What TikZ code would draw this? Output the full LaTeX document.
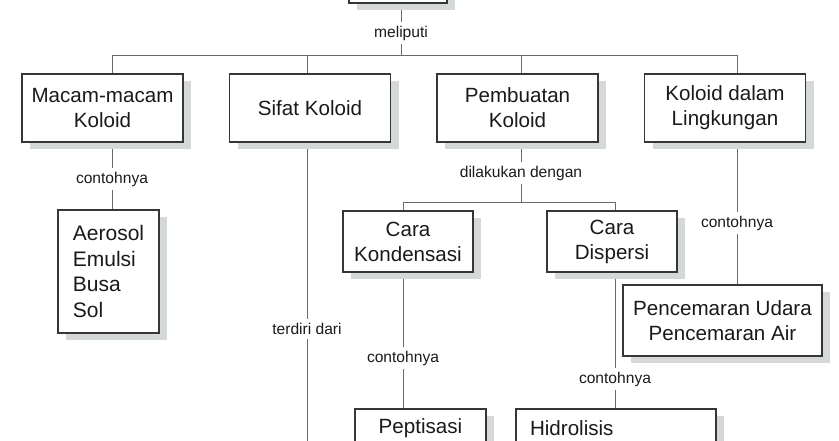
\documentclass[tikz,border=0pt]{standalone}
\usepackage{fontspec}
\setmainfont{Liberation Sans}
\usetikzlibrary{shadows}
\pgfdeclarelayer{background}
\pgfsetlayers{background,main}
\definecolor{linec}{HTML}{6A6A6A}
\definecolor{boxc}{HTML}{363636}
\definecolor{shadc}{HTML}{D4D8D8}
\definecolor{textc}{HTML}{1A1A1A}
\begin{document}
\begin{tikzpicture}[x=1pt,y=-1pt,
  box/.style={draw=boxc, line width=1.1pt, fill=white, text=textc,
    font=\fontsize{20.6}{25}\selectfont, align=center, inner sep=0pt,
    drop shadow={shadow xshift=8pt, shadow yshift=-7pt, fill=shadc, opacity=1}},
  lbl/.style={text=textc, font=\fontsize{15.6}{18}\selectfont, inner sep=4pt},
  conn/.style={draw=linec, line width=0.95pt}]
\useasboundingbox (0,0) rectangle (839,441);
\clip (0,0) rectangle (839,441);

% boxes
\node[box, minimum width=98pt, minimum height=60pt] (top) at (398,-27) {};
\node[box, minimum width=161pt, minimum height=68pt] (mac) at (102.5,108) {Macam-macam\\Koloid};
\node[box, minimum width=161pt, minimum height=68pt] (sif) at (310,108) {Sifat Koloid};
\node[box, minimum width=161pt, minimum height=68pt] (pem) at (517.5,108) {Pembuatan\\Koloid};
\node[box, minimum width=161pt, minimum height=68pt] (lin) at (725,108) {Koloid dalam\\Lingkungan};
\node[box, minimum width=101pt, minimum height=123pt, align=left,
      font=\fontsize{21}{25.5}\selectfont] (aer) at (108.5,271.5) {Aerosol\\Emulsi\\Busa\\Sol};
\node[box, minimum width=130pt, minimum height=61pt] (kon) at (408,241.5) {Cara\\Kondensasi};
\node[box, minimum width=130pt, minimum height=61pt] (dis) at (612,241.5) {Cara\\Dispersi};
\node[box, minimum width=199pt, minimum height=71pt] (pen) at (722.5,320.5) {Pencemaran Udara\\Pencemaran Air};
\node[box, minimum width=131pt, minimum height=38pt] (pep) at (420.5,428) {Peptisasi};
\node[box, minimum width=200pt, minimum height=38pt, inner xsep=14pt,
      text width=172pt, align=left] (hid) at (616,428) {Hidrolisis};

% labels
\node[lbl] (l0) at (401,33) {meliputi};
\node[lbl] (l1) at (112,179) {contohnya};
\node[lbl] (l2) at (307,329) {terdiri dari};
\node[lbl] (l3) at (521,173) {dilakukan dengan};
\node[lbl] (l4) at (403,358) {contohnya};
\node[lbl] (l5) at (615,379) {contohnya};
\node[lbl] (l6) at (737,223) {contohnya};

% bus coordinates
\coordinate (b1a) at (112,55);
\coordinate (b1b) at (307,55);
\coordinate (b1c) at (521,55);
\coordinate (b1d) at (737,55);
\coordinate (b2a) at (403,202);
\coordinate (b2b) at (615,202);
\coordinate (sifend) at (307,460);

\begin{pgfonlayer}{background}
  % top level
  \draw[conn] (top.south -| l0) -- (l0);
  \draw[conn] (l0) -- (l0 |- b1a);
  \draw[conn] (b1a) -- (b1d);
  \draw[conn] (b1a) -- (b1a |- mac.north);
  \draw[conn] (b1b) -- (b1b |- sif.north);
  \draw[conn] (b1c) -- (b1c |- pem.north);
  \draw[conn] (b1d) -- (b1d |- lin.north);
  % Macam-macam
  \draw[conn] (mac.south -| l1) -- (l1);
  \draw[conn] (l1) -- (l1 |- aer.north);
  % Sifat
  \draw[conn] (sif.south -| l2) -- (l2);
  \draw[conn] (l2) -- (sifend);
  % Pembuatan
  \draw[conn] (pem.south -| l3) -- (l3);
  \draw[conn] (l3) -- (l3 |- b2a);
  \draw[conn] (b2a) -- (b2b);
  \draw[conn] (b2a) -- (b2a |- kon.north);
  \draw[conn] (b2b) -- (b2b |- dis.north);
  \draw[conn] (kon.south -| l4) -- (l4);
  \draw[conn] (l4) -- (l4 |- pep.north);
  \draw[conn] (dis.south -| l5) -- (l5);
  \draw[conn] (l5) -- (l5 |- hid.north);
  % Lingkungan
  \draw[conn] (lin.south -| l6) -- (l6);
  \draw[conn] (l6) -- (l6 |- pen.north);
\end{pgfonlayer}
\end{tikzpicture}
\end{document}
